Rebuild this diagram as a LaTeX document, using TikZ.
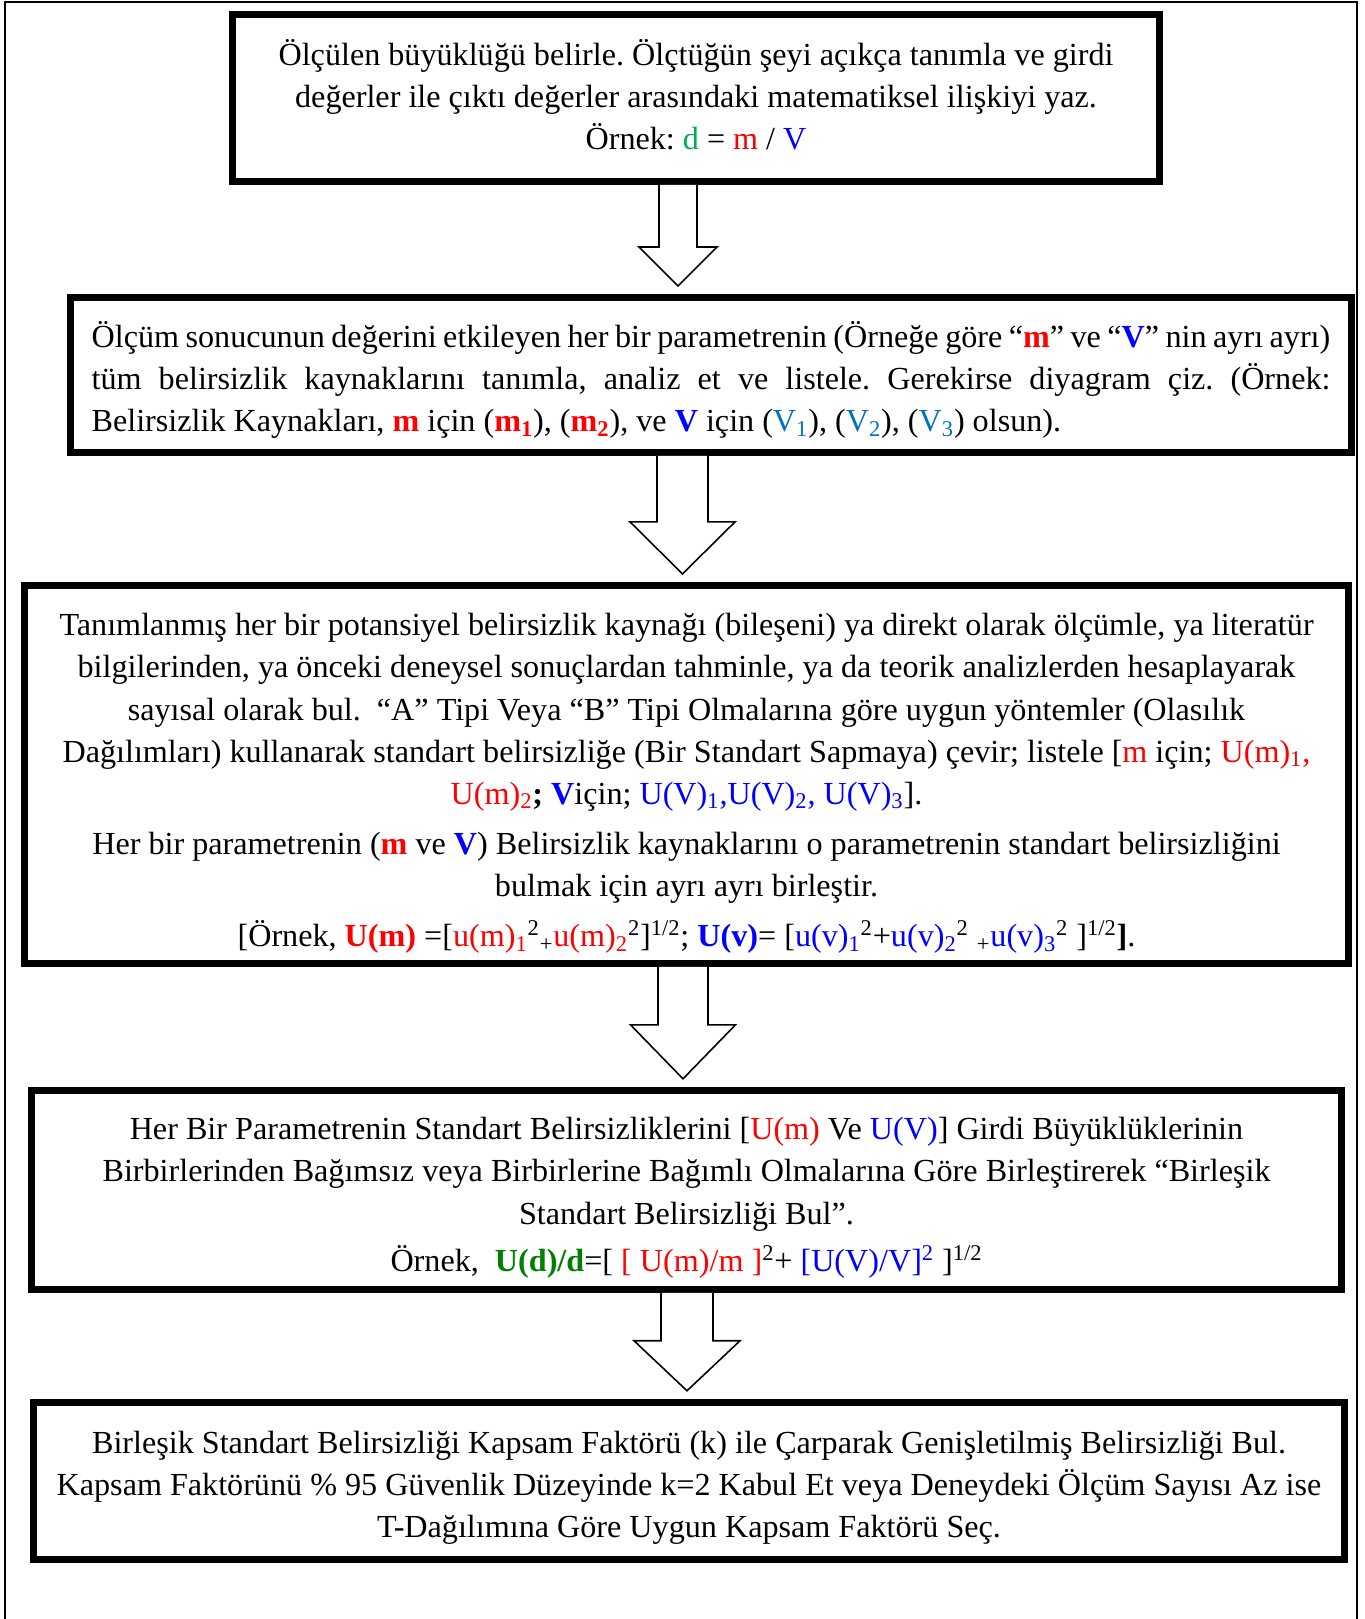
\documentclass[tikz,border=0pt]{standalone}
\usepackage{fontspec}
\setmainfont{Liberation Serif}
\frenchspacing
\usepackage{xcolor}
\usetikzlibrary{positioning,calc}
\definecolor{wordgreen}{RGB}{0,176,80}
\definecolor{darkgreen}{RGB}{0,128,0}
\definecolor{lightblue}{RGB}{0,112,192}
\newcommand{\redbf}[1]{\textbf{\textcolor{red}{#1}}}
\newcommand{\bluebf}[1]{\textbf{\textcolor{blue}{#1}}}
\newcommand{\fullline}[1]{\makebox[\linewidth][s]{\spaceskip 0.25em plus 1em minus 0.05em\relax #1}}
% hollow block arrow: upper box, lower box, centre x, half shaft, half head, head length
\newcommand{\blockarrow}[6]{%
  \draw[hollow] ({#3-#4},0 |- #1.south) -- ($({#3-#4},0 |- #2.north)+(0,{-(8+#6)})$)
    -- ($({#3-#5},0 |- #2.north)+(0,{-(8+#6)})$) -- ($(#3,0 |- #2.north)+(0,-8)$)
    -- ($({#3+#5},0 |- #2.north)+(0,{-(8+#6)})$) -- ($({#3+#4},0 |- #2.north)+(0,{-(8+#6)})$)
    -- ({#3+#4},0 |- #1.south);}

\begin{document}
\begin{tikzpicture}[x=0.02cm,y=-0.02cm,
    stepbox/.style={rectangle,draw,line width=0.14cm,inner sep=0.1cm,
      font=\fontsize{18.3}{24}\selectfont,text height=#1,
      execute at begin node={\spaceskip 0.25em\relax}},
    stepbox/.default=16pt,
    hollow/.style={draw,fill=white,line width=0.9pt,line join=miter}]
  \useasboundingbox (0,0) rectangle (1365,1619);
  \draw[line width=0.04cm] (5,1619) -- (5,2) -- (1357,2) -- (1357,1619);

  \node[stepbox=10.8pt,minimum width=18.54cm,minimum height=3.34cm,text width=17.5cm,align=center] (b1) at (696,98)
    {Ölçülen büyüklüğü belirle. Ölçtüğün şeyi açıkça tanımla ve girdi\\
     değerler ile çıktı değerler arasındaki matematiksel ilişkiyi yaz.\\
     Örnek: \textcolor{wordgreen}{d} = \textcolor{red}{m} / \textcolor{blue}{V}};

  \node[stepbox=20.5pt,minimum width=25.62cm,minimum height=3.1cm,
    text width=24.78cm,align=left,below=2.18cm of b1,xshift=0.3cm] (b2)
    {\fullline{Ölçüm sonucunun değerini etkileyen her bir parametrenin (Örneğe göre “\redbf{m}” ve “\bluebf{V}” nin ayrı ayrı)}\\
     \fullline{tüm belirsizlik kaynaklarını tanımla, analiz et ve listele. Gerekirse diyagram çiz. (Örnek:}\\
     Belirsizlik Kaynakları, \redbf{m} için (\redbf{m\textsubscript{1}}), (\redbf{m\textsubscript{2}}), ve \bluebf{V} için
     (\textcolor{lightblue}{V\textsubscript{1}}), (\textcolor{lightblue}{V\textsubscript{2}}), (\textcolor{lightblue}{V\textsubscript{3}}) olsun).};

  \node[stepbox=23pt,minimum width=26.48cm,minimum height=7.56cm,text width=25.8cm,align=center,
    below=2.52cm of b2,xshift=-0.49cm] (b3)
    {Tanımlanmış her bir potansiyel belirsizlik kaynağı (bileşeni) ya direkt olarak ölçümle, ya literatür\\
     bilgilerinden, ya önceki deneysel sonuçlardan tahminle, ya da teorik analizlerden hesaplayarak\\
     sayısal olarak bul.\ \ “A” Tipi Veya “B” Tipi Olmalarına göre uygun yöntemler (Olasılık\\
     Dağılımları) kullanarak standart belirsizliğe (Bir Standart Sapmaya) çevir; listele [\textcolor{red}{m} için; \textcolor{red}{U(m)\textsubscript{1},}\\
     \textcolor{red}{U(m)\textsubscript{2}}\textbf{;} \bluebf{V}için; \textcolor{blue}{U(V)\textsubscript{1},U(V)\textsubscript{2}, U(V)\textsubscript{3}}].\\[4.5pt]
     Her bir parametrenin (\redbf{m} ve \bluebf{V}) Belirsizlik kaynaklarını o parametrenin standart belirsizliğini\\
     bulmak için ayrı ayrı birleştir.\\[4.5pt]
     [Örnek, \redbf{U(m)} =[\textcolor{red}{u(m)\textsubscript{1}}\textsuperscript{2}\textsubscript{+}\textcolor{red}{u(m)\textsubscript{2}}\textsuperscript{2}]\textsuperscript{1/2};
     \bluebf{U(v)}= [\textcolor{blue}{u(v)\textsubscript{1}}\textsuperscript{2}+\textcolor{blue}{u(v)\textsubscript{2}}\textsuperscript{2}
     \textsubscript{+}\textcolor{blue}{u(v)\textsubscript{3}}\textsuperscript{2} ]\textsuperscript{1/2}\textbf{]}.};

  \node[stepbox=22pt,minimum width=26.22cm,minimum height=3.98cm,text width=25.8cm,align=center,
    below=2.4cm of b3] (b4)
    {Her Bir Parametrenin Standart Belirsizliklerini [\textcolor{red}{U(m)} Ve \textcolor{blue}{U(V)}] Girdi Büyüklüklerinin\\
     Birbirlerinden Bağımsız veya Birbirlerine Bağımlı Olmalarına Göre Birleştirerek “Birleşik\\
     Standart Belirsizliği Bul”.\\[3pt]
     Örnek,\ \ \textbf{\textcolor{darkgreen}{U(d)/d}}=[ \textcolor{red}{[ U(m)/m ]}\textsuperscript{2}+
     \textcolor{blue}{[U(V)/V]\textsuperscript{2}} ]\textsuperscript{1/2}};

  \node[stepbox=20.7pt,minimum width=26.24cm,minimum height=3.14cm,text width=25.8cm,align=center,
    below=2.12cm of b4,xshift=0.05cm] (b5)
    {Birleşik Standart Belirsizliği Kapsam Faktörü (k) ile Çarparak Genişletilmiş Belirsizliği Bul.\\
     Kapsam Faktörünü \% 95 Güvenlik Düzeyinde k=2 Kabul Et veya Deneydeki Ölçüm Sayısı Az ise\\
     T-Dağılımına Göre Uygun Kapsam Faktörü Seç.};

  \blockarrow{b1}{b2}{678}{19}{39}{39}
  \blockarrow{b2}{b3}{682.5}{25.5}{52.5}{52}
  \blockarrow{b3}{b4}{683}{25}{52.5}{54}
  \blockarrow{b4}{b5}{687}{26}{53}{50}
\end{tikzpicture}
\end{document}
